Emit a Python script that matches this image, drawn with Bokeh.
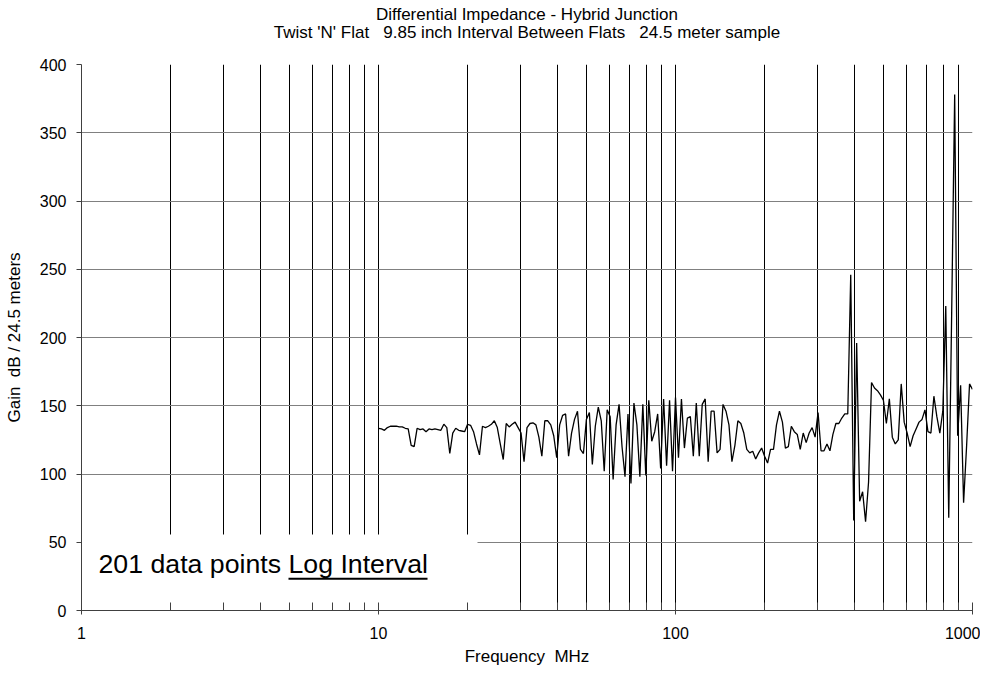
import re
import numpy as np
from bokeh.plotting import figure
from bokeh.models import (Range1d, FixedTicker, PrintfTickFormatter,
                          Label, BoxAnnotation)
from bokeh.embed import file_html
from bokeh.resources import INLINE

# ---------------- data ----------------
title_line1 = "Differential Impedance - Hybrid Junction"
title_line2 = "Twist 'N' Flat   9.85 inch Interval Between Flats   24.5 meter sample"
x_title = "Frequency  MHz"
y_title = "Gain  dB / 24.5 meters"
note_text = "201 data points"
note_underlined = "Log Interval"

# 201 points, log interval from 10 MHz to 1000 MHz (as stated on the chart)
freq_mhz = np.logspace(1, 3, 201)

gain = [
    133.5, 133, 132, 134, 135, 135, 135, 134.5, 134.5, 133.5,
    133, 121, 120, 133.5, 132.5, 133, 131, 133, 132.5, 133,
    132.5, 132, 136.5, 134, 115, 130, 133.5, 132, 131.5, 131,
    136.4, 135.7, 131, 122, 114, 135, 134, 135, 136.4, 139,
    134, 122, 110.6, 137, 134.5, 136.4, 138, 134, 130, 109,
    134, 137, 137.5, 136, 127, 113, 139, 139, 136, 128,
    112, 136, 143, 144, 113, 130, 140, 146, 118, 115,
    140, 145, 107, 135, 149, 139, 102, 147, 142, 96,
    136, 151, 120, 98, 144, 93, 152, 136, 98, 151,
    99, 154, 124, 131, 144, 104, 155, 106, 154, 102,
    156, 112, 155, 119, 141, 142, 113, 152, 113, 151,
    155, 109, 146, 146, 115.5, 118, 151, 146, 136, 109,
    121, 139, 137, 130, 118, 115.5, 116.7, 111, 115.5, 119,
    113, 108, 118, 118, 136, 146, 138, 119, 120, 135,
    131, 129, 118, 130, 123, 130, 134, 127, 145, 117,
    117, 122, 117, 129, 137, 137, 141, 144, 144, 246,
    66, 196, 80, 87, 65, 94, 167, 163, 161, 158,
    154, 137, 155, 127, 122, 125, 166, 138, 130, 120,
    128, 133, 138, 140, 147, 131, 130, 157, 142, 130,
    146, 223, 68, 220, 378, 128, 165, 79, 120, 166,
    162,
]

x_major_ticks = [1, 10, 100, 1000]
x_minor_ticks = [2, 3, 4, 5, 6, 7, 8, 9,
                 20, 30, 40, 50, 60, 70, 80, 90,
                 200, 300, 400, 500, 600, 700, 800, 900]
y_ticks = [0, 50, 100, 150, 200, 250, 300, 350, 400]

FONT = "Liberation Sans"


def keep_spaces(s):
    # keep runs of spaces visible in SVG text
    return re.sub(r" {2,}", lambda m: " " + "\u00a0" * (len(m.group()) - 1), s)


# ---------------- figure ----------------
W, H = 980, 670
FL, FR, FT, FB = 81, 972, 64, 610   # frame edges in canvas pixels

p = figure(width=W, height=H, x_axis_type="log",
           x_range=Range1d(1, 1000), y_range=Range1d(0, 400),
           output_backend="svg", toolbar_location=None, title_location=None,
           min_border_left=FL, min_border_right=W - FR,
           min_border_top=FT, min_border_bottom=H - FB)
p.outline_line_color = None
p.background_fill_color = "white"
p.border_fill_color = "white"

ppu_y = (FB - FT) / 400.0
ppd_x = (FR - FL) / 3.0


def y_at(px):
    return (FB - px) / ppu_y


def x_at(px):
    return 10 ** ((px - FL) / ppd_x)


# tickers
xt = FixedTicker(ticks=x_major_ticks, minor_ticks=x_minor_ticks)
yt = FixedTicker(ticks=y_ticks)
p.xaxis.ticker = xt
p.yaxis.ticker = yt
p.xgrid.ticker = xt
p.ygrid.ticker = yt
p.xaxis.formatter = PrintfTickFormatter(format="%d")

# grids
p.xgrid.grid_line_color = "black"
p.xgrid.grid_line_width = 1
p.xgrid.minor_grid_line_color = "black"
p.xgrid.minor_grid_line_width = 1
p.ygrid.grid_line_color = "#808080"
p.ygrid.grid_line_width = 1

# axes
for ax in (p.xaxis, p.yaxis):
    ax.axis_line_color = "#404040"
    ax.major_tick_line_color = "#404040"
    ax.minor_tick_line_color = "#404040"
    ax.major_label_text_font = FONT
    ax.major_label_text_font_size = "16px"
    ax.major_label_text_color = "black"
    ax.axis_label_text_font = FONT
    ax.axis_label_text_font_size = "17px"
    ax.axis_label_text_font_style = "normal"
    ax.axis_label_text_color = "black"

p.yaxis.major_tick_out = 5
p.yaxis.major_tick_in = 0
p.yaxis.minor_tick_out = 0
p.yaxis.minor_tick_in = 0
p.yaxis.major_label_standoff = 10
p.yaxis.axis_label = keep_spaces(y_title)
p.yaxis.axis_label_standoff = 13

p.xaxis.major_tick_out = 4
p.xaxis.major_tick_in = 8
p.xaxis.minor_tick_out = 0
p.xaxis.minor_tick_in = 8
p.xaxis.major_label_standoff = 12
p.xaxis.axis_label = keep_spaces(x_title)
p.xaxis.axis_label_standoff = 5

# titles: labels in the top panel (not clipped to the frame)
for txt, py in ((title_line1, 14), (title_line2, 31.5)):
    p.add_layout(Label(x=x_at((FL + FR) / 2), y=y_at(py), text=keep_spaces(txt),
                       text_font=FONT, text_font_size="17px",
                       text_color="black", text_align="center",
                       text_baseline="middle"), "above")

# white note box over the lower-left grid
note_box = BoxAnnotation(left=1, right=x_at(477), bottom=1, top=y_at(534),
                         fill_color="white", fill_alpha=1.0,
                         line_color=None, level="glyph")
p.add_layout(note_box)

# data line
p.line(freq_mhz, gain, line_color="black", line_width=1.3)

# note text
p.add_layout(Label(x=x_at(98), y=y_at(563.7), text=note_text, text_font=FONT,
                   text_font_size="26.7px", text_color="black",
                   text_baseline="middle"))
p.add_layout(Label(x=x_at(288), y=y_at(563.7), text=note_underlined,
                   text_font=FONT, text_font_size="26.7px",
                   text_color="black", text_baseline="middle"))
p.add_layout(BoxAnnotation(left=x_at(288), right=x_at(427),
                           bottom=y_at(579.3), top=y_at(577.3),
                           fill_color="black", fill_alpha=1.0,
                           line_color=None))

open("out.html", "w").write(file_html(p, INLINE))
